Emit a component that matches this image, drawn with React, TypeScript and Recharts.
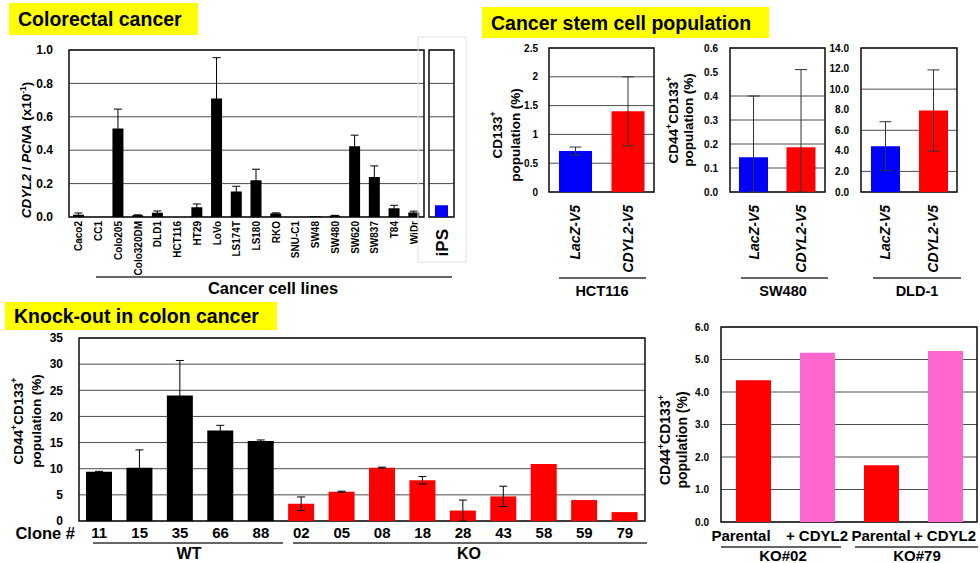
import React from "react";
import {
  Bar,
  BarChart,
  CartesianGrid,
  Cell,
  ErrorBar,
  ReferenceArea,
  XAxis,
  YAxis,
} from "recharts";

const FONT = '"Liberation Sans", Arial, Helvetica, sans-serif';
const GRID = "#4d4d4d";
const FRAME = "#1a1a1a";
const RED = "#ff0000";
const BLUE = "#0000ff";
const PINK = "#ff66cc";

// colorectal cancer lines, CDYL2 / PCNA (x10^-1)
const crcLines = [
  "Caco2", "CC1", "Colo205", "Colo320DM", "DLD1", "HCT116", "HT29", "LoVo", "LS174T",
  "LS180", "RKO", "SNU-C1", "SW48", "SW480", "SW620", "SW837", "T84", "WiDr",
];
const crcExpr = [0.014, 0, 0.53, 0.01, 0.026, 0, 0.058, 0.71, 0.152, 0.22, 0.021, 0, 0.004, 0.008, 0.424, 0.24, 0.052, 0.027];
const crcErr = [0.01, 0, 0.116, 0.003, 0.01, 0, 0.02, 0.244, 0.032, 0.066, 0.004, 0, 0, 0.002, 0.066, 0.066, 0.018, 0.008];
const crcTicks = [0, 0.2, 0.4, 0.6, 0.8, 1.0];
const ipsName = ["iPS"];
const ipsExpr = [0.07];

// cancer stem cell population
const vectors = ["LacZ-V5", "CDYL2-V5"];
const hctPop = [0.71, 1.4];
const hctErr = [0.07, 0.6];
const hctTicks = [0, 0.5, 1, 1.5, 2, 2.5];
const swPop = [0.145, 0.186];
const swErr = [[0.145, 0.255], [0.186, 0.324]];
const swTicks = [0, 0.1, 0.2, 0.3, 0.4, 0.5, 0.6];
const dldPop = [4.45, 7.92];
const dldErr = [2.38, 3.95];
const dldTicks = [0, 2, 4, 6, 8, 10, 12, 14];

// knock-out clones
const clones = ["11", "15", "35", "66", "88", "02", "05", "08", "18", "28", "43", "58", "59", "79"];
const cloneGroup = ["WT", "WT", "WT", "WT", "WT", "KO", "KO", "KO", "KO", "KO", "KO", "KO", "KO", "KO"];
const clonePop = [9.4, 10.2, 24.0, 17.3, 15.3, 3.3, 5.6, 10.2, 7.8, 2.0, 4.7, 10.9, 4.0, 1.7];
const cloneErr = [0.1, 3.4, 6.7, 1.0, 0.2, 1.3, 0.1, 0.1, 0.7, 2.0, 1.95, 0, 0, 0];
const cloneTicks = [0, 5, 10, 15, 20, 25, 30, 35];

// rescue
const rescueLabels = ["Parental", "+ CDYL2", "Parental", "+ CDYL2"];
const rescuePop = [4.36, 5.21, 1.75, 5.26];
const rescueTicks = [0, 1, 2, 3, 4, 5, 6];

const crcData = crcLines.map((name, i) => ({ name, v: crcExpr[i], err: crcErr[i] }));
const ipsData = ipsName.map((name, i) => ({ name, v: ipsExpr[i] }));
const hctData = vectors.map((name, i) => ({ name, v: hctPop[i], err: hctErr[i] }));
const swData = vectors.map((name, i) => ({ name, v: swPop[i], err: swErr[i] }));
const dldData = vectors.map((name, i) => ({ name, v: dldPop[i], err: dldErr[i] }));
const cloneData = clones.map((name, i) => ({ name, v: clonePop[i], err: cloneErr[i] }));
const rescueData = rescueLabels.map((name, i) => ({ name: `${name}|${i}`, v: rescuePop[i] }));

const fix1 = (v: number) => v.toFixed(1);

function RotTick(props: any) {
  const { x, y, payload, fs = 10, gap = 4, italic = false } = props;
  return (
    <text
      transform={`translate(${x + 0.36 * fs},${y + gap}) rotate(-90)`}
      textAnchor="end"
      fontSize={fs}
      fontWeight={700}
      fontStyle={italic ? "italic" : "normal"}
      fontFamily={FONT}
      fill="#000"
    >
      {payload.value}
    </text>
  );
}

function HTick(props: any) {
  const { x, y, payload, index, fs = 15, gap = 6, dxs } = props;
  const label = String(payload.value).split("|")[0];
  const dx = dxs ? dxs[index] ?? 0 : 0;
  return (
    <text x={x + dx} y={y + gap + 0.72 * fs} textAnchor="middle" fontSize={fs} fontWeight={700} fontFamily={FONT} fill="#000">
      {label}
    </text>
  );
}

type Rect = { x0: number; y0: number; x1: number; y1: number };

type PanelProps = {
  rect: Rect;
  padL: number;
  padB: number;
  data: any[];
  ticks: number[];
  fmt?: (v: number) => string;
  yFont?: number;
  yGap?: number;
  xTick: any;
  barSize: number;
  colors: string[];
  errWidth?: number;
  errColor?: string;
};

function Panel(p: PanelProps) {
  const padT = 8;
  const padR = 4;
  const w = p.rect.x1 - p.rect.x0 + p.padL + padR;
  const h = p.rect.y1 - p.rect.y0 + padT + p.padB;
  const top = p.ticks[p.ticks.length - 1];
  return (
    <div style={{ position: "absolute", left: p.rect.x0 - p.padL, top: p.rect.y0 - padT }}>
      <BarChart width={w} height={h} data={p.data} margin={{ top: padT, right: padR, left: 0, bottom: 0 }}>
        <CartesianGrid vertical={false} stroke={GRID} strokeWidth={1} />
        <XAxis
          dataKey="name"
          interval={0}
          axisLine={false}
          tickLine={false}
          tickSize={0}
          tickMargin={0}
          height={p.padB}
          tick={p.xTick}
        />
        <YAxis
          type="number"
          domain={[0, top]}
          ticks={p.ticks}
          allowDataOverflow
          width={p.padL}
          axisLine={false}
          tickLine={false}
          tickSize={0}
          tickMargin={p.yGap ?? 12}
          tickFormatter={p.fmt}
          tick={{ fill: "#000", fontSize: p.yFont ?? 10, fontWeight: 700, fontFamily: FONT }}
        />
        <Bar dataKey="v" barSize={p.barSize} isAnimationActive={false}>
          {p.data.map((_, i) => (
            <Cell key={i} fill={p.colors[i % p.colors.length]} />
          ))}
          {p.errWidth ? (
            <ErrorBar dataKey="err" width={p.errWidth} stroke={p.errColor ?? "#000"} strokeWidth={1} direction="y" />
          ) : null}
        </Bar>
        <ReferenceArea y1={0} y2={top} fill="none" stroke={FRAME} strokeWidth={1.6} ifOverflow="visible" />
      </BarChart>
    </div>
  );
}

function VText({ x, y, fs, children }: { x: number; y: number; fs: number; children: React.ReactNode }) {
  return (
    <text
      transform={`translate(${x + 0.36 * fs},${y}) rotate(-90)`}
      textAnchor="middle"
      fontSize={fs}
      fontWeight={700}
      fontFamily={FONT}
      fill="#000"
    >
      {children}
    </text>
  );
}

function HText({ x, y, fs, children, anchor = "middle" }: { x: number; y: number; fs: number; children: React.ReactNode; anchor?: string }) {
  return (
    <text x={x} y={y + 0.36 * fs} textAnchor={anchor as any} fontSize={fs} fontWeight={700} fontFamily={FONT} fill="#000">
      {children}
    </text>
  );
}

function TitleBox({ x, y, w, h, text }: { x: number; y: number; w: number; h: number; text: string }) {
  return (
    <g>
      <rect x={x} y={y} width={w} height={h} fill="#ffff00" />
      <HText x={x + 9} y={y + h / 2} fs={19.5} anchor="start">
        {text}
      </HText>
    </g>
  );
}

function PosLabel({ x1, x2, y, fs, first, second }: { x1: number; x2: number; y: number; fs: number; first: string; second: string }) {
  // two-line rotated "CD44+CD133+ / population (%)" label
  const s = fs * 0.65;
  const d = fs * 0.4;
  return (
    <g>
      <VText x={x1} y={y} fs={fs}>
        {first === "CD133" ? (
          <>
            CD133<tspan dy={-d} fontSize={s}>+</tspan>
          </>
        ) : (
          <>
            CD44<tspan dy={-d} fontSize={s}>+</tspan>
            <tspan dy={d}>CD133</tspan>
            <tspan dy={-d} fontSize={s}>+</tspan>
          </>
        )}
      </VText>
      <VText x={x2} y={y} fs={fs}>
        {second}
      </VText>
    </g>
  );
}

function Overlay() {
  const line = { stroke: "#333", strokeWidth: 1.5 };
  return (
    <svg width={980} height={563} style={{ position: "absolute", left: 0, top: 0, pointerEvents: "none" }}>
      <TitleBox x={9} y={3} w={189} h={32} text="Colorectal cancer" />
      <TitleBox x={482} y={7} w={287} h={31} text="Cancer stem cell population" />
      <TitleBox x={5} y={302} w={272} h={28} text="Knock-out in colon cancer" />

      {/* colorectal panel */}
      <rect x={418} y={37} width={48} height={225} fill="none" stroke="#e2e2e2" strokeWidth={1} />
      <VText x={26} y={150} fs={13.5}>
        <tspan fontStyle="italic">CDYL2</tspan> / <tspan fontStyle="italic">PCNA</tspan> (x10
        <tspan dy={-5} fontSize={8.5}>-1</tspan>
        <tspan dy={5}>)</tspan>
      </VText>
      <line x1={96} y1={277} x2={452} y2={277} {...line} />
      <HText x={273} y={288} fs={16.5}>
        Cancer cell lines
      </HText>

      {/* stem cell panels */}
      <PosLabel x1={497} x2={515} y={135} fs={13.5} first="CD133" second="population (%)" />
      <PosLabel x1={673} x2={688} y={120} fs={13.5} first="CD44" second="population (%)" />
      <line x1={559} y1={278} x2={646} y2={278} {...line} />
      <line x1={741} y1={278} x2={828} y2={278} {...line} />
      <line x1={873} y1={278} x2={961} y2={278} {...line} />
      <HText x={602} y={291} fs={14.5}>HCT116</HText>
      <HText x={783} y={291} fs={14.5}>SW480</HText>
      <HText x={917} y={291} fs={14.5}>DLD-1</HText>

      {/* knock-out panel */}
      <PosLabel x1={18} x2={36} y={421} fs={13.5} first="CD44" second="population (%)" />
      <HText x={75} y={533} fs={16.5} anchor="end">
        Clone #
      </HText>
      <line x1={93} y1={543} x2={283} y2={543} {...line} />
      <line x1={293} y1={543} x2={647} y2={543} {...line} />
      <HText x={189} y={553} fs={16}>WT</HText>
      <HText x={469} y={553} fs={16}>KO</HText>

      {/* rescue panel */}
      <PosLabel x1={665} x2={682} y={440} fs={14} first="CD44" second="population (%)" />
      <line x1={721} y1={547} x2={841} y2={547} {...line} />
      <line x1={855} y1={547} x2={978} y2={547} {...line} />
      <HText x={783} y={556} fs={15}>KO#02</HText>
      <HText x={917} y={556} fs={15}>KO#79</HText>
    </svg>
  );
}

export default function App() {
  return (
    <div
      style={{
        position: "absolute",
        left: 0,
        top: 0,
        width: 980,
        height: 563,
        background: "#fff",
        fontFamily: FONT,
        overflow: "hidden",
      }}
    >
      <Panel
        rect={{ x0: 69, y0: 50, x1: 424, y1: 217 }}
        padL={60}
        padB={62}
        data={crcData}
        ticks={crcTicks}
        fmt={fix1}
        yFont={12}
        yGap={16}
        xTick={<RotTick fs={10} gap={4} />}
        barSize={11}
        colors={["#000"]}
        errWidth={4}
      />
      <Panel
        rect={{ x0: 429, y0: 50, x1: 454, y1: 217 }}
        padL={2}
        padB={45}
        data={ipsData}
        ticks={crcTicks}
        fmt={() => ""}
        xTick={<RotTick fs={17} gap={12} />}
        barSize={13}
        colors={[BLUE]}
      />
      <Panel
        rect={{ x0: 549, y0: 48, x1: 654, y1: 192 }}
        padL={30}
        padB={85}
        data={hctData}
        ticks={hctTicks}
        yGap={11}
        xTick={<RotTick fs={14} gap={13} italic />}
        barSize={33}
        colors={[BLUE, RED]}
        errWidth={6}
        errColor="#333"
      />
      <Panel
        rect={{ x0: 730, y0: 48, x1: 825, y1: 192 }}
        padL={30}
        padB={85}
        data={swData}
        ticks={swTicks}
        fmt={fix1}
        xTick={<RotTick fs={14} gap={13} italic />}
        barSize={29}
        colors={[BLUE, RED]}
        errWidth={6}
        errColor="#333"
      />
      <Panel
        rect={{ x0: 861, y0: 48, x1: 957, y1: 192 }}
        padL={32}
        padB={85}
        data={dldData}
        ticks={dldTicks}
        fmt={fix1}
        xTick={<RotTick fs={14} gap={13} italic />}
        barSize={29}
        colors={[BLUE, RED]}
        errWidth={6}
        errColor="#333"
      />
      <Panel
        rect={{ x0: 79, y0: 338, x1: 645, y1: 521 }}
        padL={40}
        padB={24}
        data={cloneData}
        ticks={cloneTicks}
        yFont={12}
        yGap={16}
        xTick={<HTick fs={15} gap={6} />}
        barSize={26}
        colors={cloneGroup.map((g) => (g === "WT" ? "#000" : RED))}
        errWidth={4}
      />
      <Panel
        rect={{ x0: 721, y0: 327, x1: 977, y1: 522 }}
        padL={30}
        padB={26}
        data={rescueData}
        ticks={rescueTicks}
        fmt={fix1}
        yFont={10}
        xTick={<HTick fs={15} gap={8} dxs={[-12, 0, 0, 0]} />}
        barSize={35}
        colors={[RED, PINK]}
      />
      <Overlay />
    </div>
  );
}
